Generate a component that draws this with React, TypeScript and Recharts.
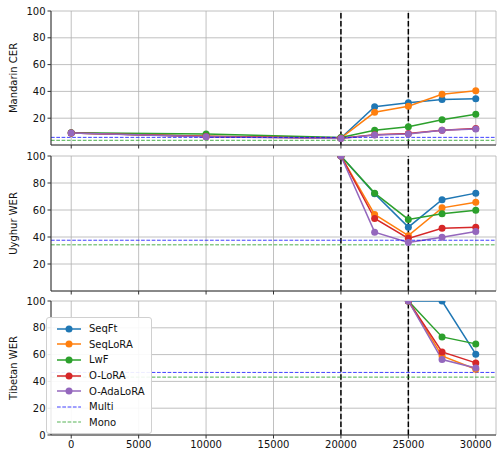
import React from "react"
import {
  CartesianGrid,
  Legend,
  Line,
  LineChart,
  ReferenceLine,
  XAxis,
  YAxis,
} from "recharts"

const steps = [0, 10000, 20000, 22500, 25000, 27500, 30000]
const xTicks = [0, 5000, 10000, 15000, 20000, 25000, 30000]
const yTicks = [0, 20, 40, 60, 80, 100]
const boundaries = [20000, 25000]

const methods = ["SeqFt", "SeqLoRA", "LwF", "O-LoRA", "O-AdaLoRA"]
const colors = ["#1f77b4", "#ff7f0e", "#2ca02c", "#d62728", "#9467bd"]

// Mandarin CER, one list per method (aligned with steps)
const mandarinSeqFt = [9, 6.5, 5.2, 28.6, 31.6, 34, 34.6]
const mandarinSeqLoRA = [9, 6.5, 5.2, 24.4, 28.9, 37.8, 40.5]
const mandarinLwF = [9.2, 8.3, 5.6, 11, 13.7, 18.9, 22.9]
const mandarinOLoRA = [9, 6.4, 5, 7.6, 8.6, 11, 12.4]
const mandarinOAdaLoRA = [9, 6.2, 4.8, 7.4, 8.2, 11, 12]

// Uyghur WER
const uyghurSeqFt = [null, null, 100, 72, 47.3, 67.6, 72.5]
const uyghurSeqLoRA = [null, null, 100, 56.7, 41, 61.6, 65.8]
const uyghurLwF = [null, null, 100, 72.5, 53, 57.2, 59.9]
const uyghurOLoRA = [null, null, 100, 53.7, 39, 46.5, 47.3]
const uyghurOAdaLoRA = [null, null, 100, 43.6, 36, 39.9, 44]

// Tibetan WER
const tibetanSeqFt = [null, null, null, null, 100, 100, 60.3]
const tibetanSeqLoRA = [null, null, null, null, 100, 59, 49.1]
const tibetanLwF = [null, null, null, null, 100, 73.2, 68]
const tibetanOLoRA = [null, null, null, null, 100, 62, 53.8]
const tibetanOAdaLoRA = [null, null, null, null, 100, 56.3, 50]

const multi = [5.7, 37.6, 46.7]
const mono = [3.5, 34.2, 43.2]

const buildRows = (series: (number | null)[][]) =>
  steps.map((step, i) => {
    const row: Record<string, number | null> = { step }
    methods.forEach((m, j) => {
      row[m] = series[j][i]
    })
    return row
  })

const panels = [
  {
    label: "Mandarin CER",
    rows: buildRows([mandarinSeqFt, mandarinSeqLoRA, mandarinLwF, mandarinOLoRA, mandarinOAdaLoRA]),
    multi: multi[0],
    mono: mono[0],
  },
  {
    label: "Uyghur WER",
    rows: buildRows([uyghurSeqFt, uyghurSeqLoRA, uyghurLwF, uyghurOLoRA, uyghurOAdaLoRA]),
    multi: multi[1],
    mono: mono[1],
  },
  {
    label: "Tibetan WER",
    rows: buildRows([tibetanSeqFt, tibetanSeqLoRA, tibetanLwF, tibetanOLoRA, tibetanOAdaLoRA]),
    multi: multi[2],
    mono: mono[2],
  },
]

const font = "DejaVu Sans, sans-serif"
const spine = "#333"

const YLabel = ({ text }: { text: string }) => (props: any) => {
  const vb = props.viewBox || { y: 0, height: 0 }
  const cy = vb.y + vb.height / 2
  return (
    <text
      x={13}
      y={cy}
      transform={`rotate(-90, 13, ${cy})`}
      textAnchor="middle"
      dominantBaseline="central"
      fontSize={10}
      fontFamily={font}
      fill="#111"
    >
      {text}
    </text>
  )
}

const legendItems = [
  ...methods.map((m, i) => ({ name: m, color: colors[i], dashed: false })),
  { name: "Multi", color: "rgba(0,0,255,0.75)", dashed: true },
  { name: "Mono", color: "rgba(44,160,44,0.8)", dashed: true },
]

const LegendBox = () => (
  <div
    style={{
      background: "rgba(255,255,255,0.9)",
      border: "1px solid #d0d0d0",
      borderRadius: 3,
      padding: "3px 6px 3px 10px",
      fontFamily: font,
      fontSize: 10,
      color: "#111",
    }}
  >
    {legendItems.map((it) => (
      <div key={it.name} style={{ display: "flex", alignItems: "center", height: 15.6 }}>
        <svg width={24} height={10} style={{ marginRight: 8 }}>
          <line
            x1={0}
            y1={5}
            x2={24}
            y2={5}
            stroke={it.color}
            strokeWidth={it.dashed ? 1 : 1.5}
            strokeDasharray={it.dashed ? "3.7 1.6" : undefined}
          />
          {!it.dashed && <circle cx={12} cy={5} r={3.5} fill={it.color} />}
        </svg>
        <span>{it.name}</span>
      </div>
    ))}
  </div>
)

const layout = [
  { top: 0, height: 150, marginTop: 11, xHeight: 5 },
  { top: 146, height: 150, marginTop: 10, xHeight: 5 },
  { top: 290, height: 162, marginTop: 11, xHeight: 17 },
]

export default function App() {
  return (
    <div style={{ position: "absolute", left: 0, top: 0, width: 497, height: 452, background: "#fff" }}>
      {panels.map((p, idx) => {
        const l = layout[idx]
        const last = idx === panels.length - 1
        return (
          <div key={p.label} style={{ position: "absolute", left: 0, top: l.top }}>
            <LineChart
              width={497}
              height={l.height}
              data={p.rows}
              margin={{ top: l.marginTop, right: 1, bottom: 0, left: 0 }}
            >
              <CartesianGrid stroke="#b0b0b0" strokeWidth={0.8} />
              <XAxis
                dataKey="step"
                type="number"
                domain={[-1500, 31500]}
                ticks={xTicks}
                allowDataOverflow
                height={l.xHeight}
                stroke={spine}
                tickSize={3.5}
                tickMargin={2}
                tick={last ? { fontSize: 10, fontFamily: font, fill: "#111" } : () => <g />}
              />
              <XAxis xAxisId="top" orientation="top" dataKey="step" type="number" domain={[-1500, 31500]} height={0} tick={false} tickLine={false} stroke={spine} />
              <YAxis
                domain={[0, 100]}
                ticks={yTicks}
                allowDataOverflow
                width={51}
                stroke={spine}
                tickSize={3.5}
                tickMargin={2}
                tick={{ fontSize: 10, fontFamily: font, fill: "#111" }}
                label={YLabel({ text: p.label })}
              />
              <YAxis yAxisId="right" orientation="right" domain={[0, 100]} width={0} tick={false} tickLine={false} stroke={spine} />
              {boundaries.map((b) => (
                <ReferenceLine key={b} x={b} stroke="#000" strokeWidth={1.5} strokeDasharray="5.5 2.4" />
              ))}
              {methods.map((m, i) => (
                <Line
                  key={m}
                  dataKey={m}
                  name={m}
                  stroke={colors[i]}
                  strokeWidth={1.5}
                  dot={{ r: 3.5, fill: colors[i], stroke: colors[i], strokeWidth: 0 }}
                  activeDot={false}
                  isAnimationActive={false}
                />
              ))}
              <ReferenceLine y={p.multi} stroke="blue" strokeOpacity={0.75} strokeWidth={1} strokeDasharray="3.7 1.6" />
              <ReferenceLine y={p.mono} stroke="#2ca02c" strokeOpacity={0.85} strokeWidth={1} strokeDasharray="3.7 1.6" />
              {last && (
                <Legend
                  layout="horizontal"
                  verticalAlign="middle"
                  align="center"
                  wrapperStyle={{ left: 46, top: 27, width: "auto", height: "auto" }}
                  content={() => <LegendBox />}
                />
              )}
            </LineChart>
          </div>
        )
      })}
    </div>
  )
}
